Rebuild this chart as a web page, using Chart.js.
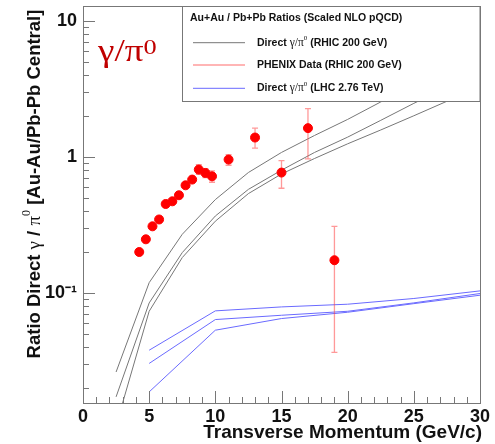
<!DOCTYPE html>
<html>
<head>
<meta charset="utf-8">
<script src="https://cdn.jsdelivr.net/npm/chart.js@4"></script>
<style>
  html, body { margin: 0; padding: 0; background: #fff; }
  #wrap { width: 495px; height: 444px; }
</style>
</head>
<body>
<div id="wrap"><canvas id="ratioChart" width="495" height="444"></canvas></div>
<script>
// PHENIX measured gamma/pi0 ratio
const phenixPt = [4.25, 4.75, 5.25, 5.75, 6.25, 6.75, 7.25, 7.75, 8.25, 8.75, 9.25, 9.75, 11, 13, 15, 17, 19];
const phenixRatio = [0.200, 0.248, 0.309, 0.347, 0.451, 0.472, 0.523, 0.619, 0.682, 0.808, 0.763, 0.721, 0.957, 1.39, 0.768, 1.63, 0.174];
const phenixLow = [0.195, 0.242, 0.302, 0.340, 0.440, 0.460, 0.510, 0.600, 0.665, 0.746, 0.706, 0.652, 0.869, 1.16, 0.589, 0.967, 0.0365];
const phenixHigh = [0.205, 0.254, 0.316, 0.355, 0.462, 0.484, 0.536, 0.638, 0.700, 0.879, 0.822, 0.789, 1.04, 1.63, 0.941, 2.27, 0.309];

// scaled NLO pQCD, RHIC 200 GeV (three curves)
const rhicPt = [2.5, 5, 7.5, 10, 12.5, 15, 17.5, 20, 22.5, 25, 27.5, 30];
const rhicUpper = [0.0262, 0.119, 0.270, 0.486, 0.769, 1.08, 1.44, 1.89, 2.54, 3.37, 4.4, 5.7];
const rhicMid = [0.0172, 0.0844, 0.198, 0.368, 0.578, 0.80, 1.08, 1.40, 1.86, 2.48, 3.25, 4.2];
const rhicLow = [0.0106, 0.0733, 0.182, 0.337, 0.538, 0.75, 0.975, 1.25, 1.58, 2.01, 2.57, 3.25];

// scaled NLO pQCD, LHC 2.76 TeV (three curves)
const lhcPt = [5, 10, 15, 20, 25, 30];
const lhcUpper = [0.0379, 0.0738, 0.0789, 0.0826, 0.091, 0.1035];
const lhcMid = [0.0303, 0.0637, 0.0685, 0.0733, 0.0845, 0.099];
const lhcLow = [0.0187, 0.0532, 0.0648, 0.0721, 0.0834, 0.0962];

const xTicks = [0, 5, 10, 15, 20, 25, 30];
const yTicks = [0.1, 1, 10];
const yTickLabels = ['10\u207B\u00B9', '1', '10'];

const SANS = '"Liberation Sans", Arial, sans-serif';
const SERIF = '"Liberation Serif", "Times New Roman", serif';
const GRAY = '#777';
const BLUE = '#6a6aff';

const pts = (xs, ys) => xs.map((x, i) => ({ x: x, y: ys[i] }));

function curve(xs, ys, color) {
  return {
    data: pts(xs, ys),
    showLine: true,
    borderColor: color,
    borderWidth: 1,
    pointRadius: 0,
    fill: false,
    order: 2
  };
}

// draws pieces of text in different fonts one after the other
function richText(ctx, parts, x, y, align) {
  let total = 0;
  parts.forEach(p => { ctx.font = p.f; total += ctx.measureText(p.t).width; });
  let cx = align === 'center' ? x - total / 2 : align === 'right' ? x - total : x;
  ctx.textAlign = 'left';
  parts.forEach(p => {
    ctx.font = p.f;
    ctx.fillText(p.t, cx, y + (p.dy || 0));
    cx += ctx.measureText(p.t).width;
  });
}

const rootStyle = {
  id: 'rootStyle',
  beforeDatasetDraw(chart, args) {
    if (args.index !== 0) return;
    const ctx = chart.ctx, xs = chart.scales.x, ys = chart.scales.y;
    ctx.save();
    ctx.strokeStyle = 'rgba(255,70,70,0.55)';
    ctx.lineWidth = 1.3;
    phenixPt.forEach((x, i) => {
      const px = xs.getPixelForValue(x);
      const top = ys.getPixelForValue(phenixHigh[i]);
      const bot = ys.getPixelForValue(phenixLow[i]);
      ctx.beginPath();
      ctx.moveTo(px, top); ctx.lineTo(px, bot);
      ctx.moveTo(px - 3, top); ctx.lineTo(px + 3, top);
      ctx.moveTo(px - 3, bot); ctx.lineTo(px + 3, bot);
      ctx.stroke();
    });
    ctx.restore();
  },
  afterDatasetsDraw(chart) {
    const ctx = chart.ctx, a = chart.chartArea;
    // legend box
    const lx = 182.5, ly = a.top, lw = a.right - 182.5, lh = 95;
    ctx.save();
    ctx.fillStyle = '#fff';
    ctx.fillRect(lx, ly, lw, lh);
    ctx.strokeStyle = GRAY;
    ctx.lineWidth = 1;
    ctx.strokeRect(lx, ly + 0.5, lw, lh);
    ctx.fillStyle = '#111';
    ctx.textBaseline = 'middle';
    ctx.font = 'bold 10.5px ' + SANS;
    ctx.textAlign = 'left';
    ctx.fillText('Au+Au / Pb+Pb Ratios (Scaled NLO pQCD)', 190, ly + 12.5);
    const rows = [
      { y: 36.7, c: GRAY, pre: 'Direct ', gp: true, post: ' (RHIC 200 GeV)' },
      { y: 59, c: 'rgba(255,90,90,0.6)', pre: 'PHENIX Data (RHIC 200 GeV)', gp: false, post: '' },
      { y: 82.3, c: BLUE, pre: 'Direct ', gp: true, post: ' (LHC 2.76 TeV)' }
    ];
    rows.forEach(r => {
      const y = ly + r.y;
      ctx.strokeStyle = r.c;
      ctx.lineWidth = r.gp ? 1 : 1.5;
      ctx.beginPath();
      ctx.moveTo(193, y); ctx.lineTo(245, y);
      ctx.stroke();
      const parts = [{ t: r.pre, f: 'bold 10.5px ' + SANS }];
      if (r.gp) {
        parts.push({ t: '\u03B3/\u03C0', f: '11.5px ' + SERIF });
        parts.push({ t: '0', f: '7px ' + SERIF, dy: -4.5 });
        parts.push({ t: r.post, f: 'bold 10.5px ' + SANS });
      }
      richText(ctx, parts, 257, y, 'left');
    });
    ctx.restore();
  },
  afterDraw(chart) {
    const ctx = chart.ctx, a = chart.chartArea, xs = chart.scales.x, ys = chart.scales.y;
    ctx.save();
    // frame
    ctx.strokeStyle = GRAY;
    ctx.lineWidth = 1;
    ctx.strokeRect(Math.round(a.left) + 0.5, Math.round(a.top) + 0.5,
      Math.round(a.right - a.left), Math.round(a.bottom - a.top));
    // ticks on the inside, ROOT style
    ctx.beginPath();
    for (let v = 0; v <= 30; v++) {
      const px = Math.round(xs.getPixelForValue(v)) + 0.5;
      const len = v % 5 === 0 ? 12 : 6;
      ctx.moveTo(px, a.bottom); ctx.lineTo(px, a.bottom - len);
    }
    [0.01, 0.1, 1, 10].forEach(dec => {
      for (let m = 1; m <= 9; m++) {
        const v = dec * m;
        if (v < ys.min || v > ys.max) continue;
        const py = Math.round(ys.getPixelForValue(v)) + 0.5;
        const len = m === 1 ? 12 : 6;
        ctx.moveTo(a.left, py); ctx.lineTo(a.left + len, py);
      }
    });
    ctx.stroke();

    ctx.fillStyle = '#111';
    ctx.textBaseline = 'middle';
    // axis titles
    ctx.font = 'bold 19px ' + SANS;
    ctx.textAlign = 'right';
    ctx.fillText('Transverse Momentum (GeV/c)', 482, 433);

    ctx.save();
    ctx.translate(35, 184);
    ctx.rotate(-Math.PI / 2);
    richText(ctx, [
      { t: 'Ratio Direct ', f: 'bold 18.5px ' + SANS },
      { t: '\u03B3', f: '19px ' + SERIF },
      { t: ' / ', f: 'bold 18.5px ' + SANS },
      { t: '\u03C0', f: '19px ' + SERIF },
      { t: '0', f: '12px ' + SERIF, dy: -8 },
      { t: ' [Au-Au/Pb-Pb Central]', f: 'bold 18.5px ' + SANS }
    ], 0, 0, 'center');
    ctx.restore();

    // big label, slightly wide like the original
    ctx.save();
    ctx.fillStyle = '#c00000';
    ctx.textBaseline = 'alphabetic';
    ctx.translate(98, 61);
    ctx.scale(1.2, 1);
    richText(ctx, [
      { t: '\u03B3/\u03C0', f: '31px ' + SERIF },
      { t: '0', f: '22px ' + SERIF, dy: -7 }
    ], 0, 0, 'left');
    ctx.restore();
    ctx.restore();
  }
};

new Chart(document.getElementById('ratioChart').getContext('2d'), {
  type: 'scatter',
  data: {
    datasets: [
      {
        data: pts(phenixPt, phenixRatio),
        backgroundColor: '#ff0000',
        borderColor: '#ff0000',
        pointRadius: 4.5,
        pointHoverRadius: 4.5,
        order: 1
      },
      curve(rhicPt, rhicUpper, GRAY),
      curve(rhicPt, rhicMid, GRAY),
      curve(rhicPt, rhicLow, GRAY),
      curve(lhcPt, lhcUpper, BLUE),
      curve(lhcPt, lhcMid, BLUE),
      curve(lhcPt, lhcLow, BLUE)
    ]
  },
  options: {
    responsive: false,
    animation: false,
    events: [],
    layout: { padding: { top: 6, right: 15, left: 0, bottom: 0 } },
    plugins: { legend: { display: false }, tooltip: { enabled: false } },
    scales: {
      x: {
        type: 'linear',
        min: 0,
        max: 30,
        afterBuildTicks: s => { s.ticks = xTicks.map(v => ({ value: v })); },
        afterFit: s => { s.height = 41; s.paddingLeft = 0; s.paddingRight = 0; },
        grid: { display: false, drawTicks: false },
        border: { display: false },
        ticks: {
          autoSkip: false,
          maxRotation: 0,
          padding: 3,
          color: '#111',
          font: { family: SANS, size: 18, weight: 'bold' }
        }
      },
      y: {
        type: 'logarithmic',
        min: 0.0155,
        max: 12.9,
        afterBuildTicks: s => { s.ticks = yTicks.map(v => ({ value: v })); },
        afterFit: s => { s.width = 83; s.paddingTop = 0; s.paddingBottom = 0; },
        grid: { display: false, drawTicks: false },
        border: { display: false },
        ticks: {
          autoSkip: false,
          padding: 6,
          color: '#111',
          font: { family: SANS, size: 18, weight: 'bold' },
          callback: v => yTickLabels[yTicks.indexOf(v)] ?? ''
        }
      }
    }
  },
  plugins: [rootStyle]
});
</script>
</body>
</html>
